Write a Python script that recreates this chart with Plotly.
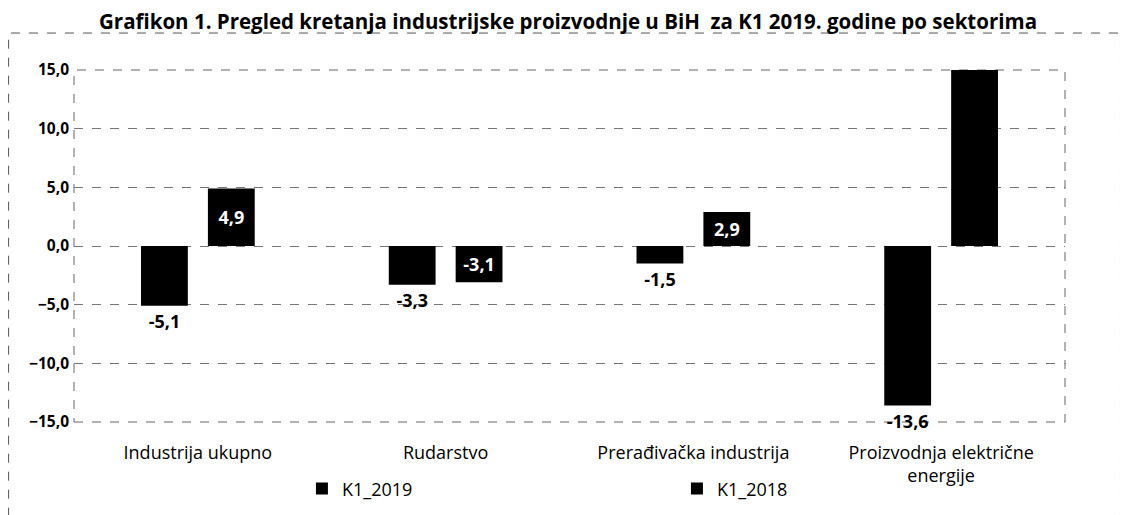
import plotly.graph_objects as go

categories = [
    "Industrija ukupno",
    "Rudarstvo",
    "Prerađivačka industrija",
    "Proizvodnja električne<br>energije",
]
k1_2019 = [-5.1, -3.3, -1.5, -13.6]
k1_2018 = [4.9, -3.1, 2.9, 15.7]
y_ticks = [-15, -10, -5, 0, 5, 10, 15]

font_family = "'Open Sans', Lato, sans-serif"

fig = go.Figure()
fig.add_trace(
    go.Bar(
        x=categories,
        y=k1_2019,
        name="K1_2019",
        marker={"color": "black", "line": {"width": 0}},
        texttemplate="%{y:.1f}",
        textposition="outside",
        textfont={"color": "black", "size": 18, "family": font_family, "weight": "bold"},
        cliponaxis=False,
        hoverinfo="skip",
    )
)
fig.add_trace(
    go.Bar(
        x=categories,
        y=k1_2018,
        name="K1_2018",
        marker={"color": "black", "line": {"width": 0}},
        texttemplate="%{y:.1f}",
        textposition="inside",
        insidetextanchor="middle",
        textangle=0,
        textfont={"color": "white", "size": 18, "family": font_family, "weight": "bold"},
        constraintext="none",
        cliponaxis=True,
        hoverinfo="skip",
    )
)

# page body adds an 8px offset, so the figure is a bit smaller than the window
fig.update_layout(
    width=1120,
    height=507,
    margin={"l": 66, "r": 63, "t": 62, "b": 93, "autoexpand": False},
    paper_bgcolor="white",
    plot_bgcolor="white",
    separators=",.",
    barmode="group",
    bargap=0.46,
    bargroupgap=0.3,
    font={"family": font_family, "size": 18, "color": "black"},
    title={
        "text": "<b>Grafikon 1. Pregled kretanja industrijske proizvodnje u BiH  za K1 2019. godine po sektorima</b>",
        "x": 0.5,
        "xanchor": "center",
        "y": 0.972,
        "yanchor": "middle",
        "font": {"size": 20.5, "family": font_family},
    },
    legend={
        "orientation": "h",
        "x": 0.23,
        "xanchor": "left",
        "y": -0.19,
        "yanchor": "middle",
        "entrywidth": 330,
        "entrywidthmode": "pixels",
        "bgcolor": "rgba(0,0,0,0)",
        "font": {"size": 18},
    },
    shapes=[
        {
            "type": "rect",
            "xref": "paper",
            "yref": "paper",
            "x0": -0.066,
            "x1": 1.056,
            "y0": -0.28,
            "y1": 1.105,
            "line": {"color": "#555", "width": 1, "dash": "dash"},
            "layer": "above",
        },
        {
            "type": "rect",
            "xref": "paper",
            "yref": "paper",
            "x0": 0,
            "x1": 1,
            "y0": 0,
            "y1": 1,
            "line": {"color": "#666", "width": 1, "dash": "dash"},
            "layer": "below",
        },
    ],
)

fig.update_xaxes(
    showgrid=False,
    showline=False,
    ticks="",
    ticklabelstandoff=18,
    tickfont={"size": 18},
)
fig.update_yaxes(
    range=[-15, 15],
    tickvals=y_ticks,
    tickformat=".1f",
    tickfont={"size": 15.5, "weight": "bold"},
    showgrid=True,
    gridcolor="#777",
    griddash="dash",
    gridwidth=1,
    zeroline=False,
    showline=False,
    ticks="",
    ticklabelstandoff=4,
)

fig.write_html("out.html")
